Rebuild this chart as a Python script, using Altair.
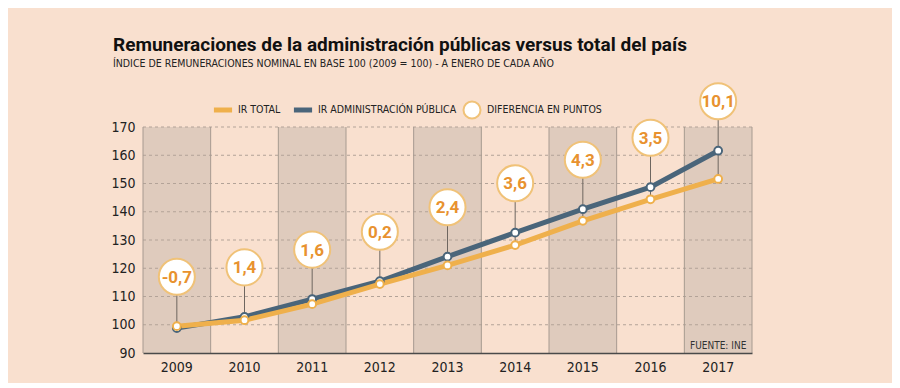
import altair as alt
import pandas as pd

years = ["2009", "2010", "2011", "2012", "2013", "2014", "2015", "2016", "2017"]
ir_total = [99.5, 101.6, 107.3, 114.4, 121.0, 128.2, 136.8, 144.4, 151.6]
ir_admin = [98.8, 102.8, 109.1, 115.4, 124.1, 132.6, 140.9, 148.7, 161.6]
diferencia = ["-0,7", "1,4", "1,6", "0,2", "2,4", "3,6", "4,3", "3,5", "10,1"]
series_names = ["IR TOTAL", "IR ADMINISTRACIÓN PÚBLICA"]
bubble_name = "DIFERENCIA EN PUNTOS"
y_ticks = [90, 100, 110, 120, 130, 140, 150, 160, 170]

BG = "#f9e0cf"
BAND = "#dfcbbd"
ORANGE = "#efb04c"
SLATE = "#4a657a"
BUB = "#f0c278"
TXT_OR = "#e8922f"
FONT = "DejaVu Sans Condensed, DejaVu Sans"
TFONT = "Roboto"

wide = pd.DataFrame({"year": years, "total": ir_total, "admin": ir_admin,
                     "dif": diferencia,
                     "shade": [i % 2 == 0 for i in range(len(years))],
                     "lab": bubble_name})
long = pd.concat([
    pd.DataFrame({"year": years, "value": ir_admin, "serie": series_names[1]}),
    pd.DataFrame({"year": years, "value": ir_total, "serie": series_names[0]}),
])

xs = alt.Scale(domain=years, paddingInner=0, paddingOuter=0)
ys = alt.Scale(domain=[90, 170], nice=False, zero=False)
XAX = alt.Axis(labelAngle=0, ticks=False, domain=True, domainColor="#4a4a4a",
               domainWidth=1.5, labelPadding=7, labelFontSize=14, grid=False,
               labelColor="#222", labelFont=FONT, title=None)
YAX = alt.Axis(values=y_ticks, ticks=False, domain=False, grid=False, labelPadding=8,
               labelOverlap=False, labelFontSize=14, labelColor="#222",
               labelFont=FONT, title=None)


def X(**kw):
    return alt.X("year:O", scale=xs, axis=XAX, title=None, **kw)


def Y(field):
    return alt.Y(field, scale=ys, axis=YAX, title=None)


base = alt.Chart(wide)

bands = base.transform_filter("datum.shade").mark_rect(color=BAND).encode(
    x=X(), y=alt.datum(90, scale=ys, axis=YAX), y2=alt.datum(170))

grid = base.mark_rule(color="#a79a90", strokeWidth=1).encode(
    x=X(bandPosition=0), y=alt.datum(90, scale=ys, axis=YAX), y2=alt.datum(170))
grid_end = base.transform_filter("datum.year == '2017'").mark_rule(
    color="#a79a90", strokeWidth=1).encode(
    x=X(bandPosition=1), y=alt.datum(90, scale=ys, axis=YAX), y2=alt.datum(170))

hgrid = alt.Chart(pd.DataFrame({"v": y_ticks[1:]})).mark_rule(
    color="#b3a398", strokeDash=[3, 3], strokeWidth=1).encode(y=Y("v:Q"))

calc = base.transform_calculate(
    low="min(datum.total, datum.admin)",
    bub="max(datum.total, datum.admin) + 17.5")

stems = calc.mark_rule(color="#6e6660", strokeWidth=1).encode(
    x=X(), y=Y("low:Q"), y2="bub:Q")

color = alt.Color("serie:N", scale=alt.Scale(domain=series_names, range=[ORANGE, SLATE]),
                  legend=alt.Legend(title=None, orient="none", direction="horizontal",
                                    legendX=68, legendY=-29, symbolType="stroke",
                                    symbolStrokeWidth=5, symbolSize=330, labelLimit=400,
                                    labelFontSize=10.5, labelFont=FONT, labelColor="#222",
                                    columnPadding=2, labelOffset=3))

lines = alt.Chart(long).mark_line(strokeWidth=5).encode(
    x=X(), y=Y("value:Q"), color=color, order=alt.Order("serie:N"))

pts = alt.Chart(long).mark_point(filled=False, fill="white", fillOpacity=1,
                                 size=60, strokeWidth=2, opacity=1).encode(
    x=X(), y=Y("value:Q"),
    color=alt.Color("serie:N", scale=alt.Scale(domain=series_names, range=[ORANGE, SLATE]),
                    legend=None))

bubbles = calc.mark_point(filled=False, fill="white", fillOpacity=1, size=1300,
                          strokeWidth=2, opacity=1, shape="circle").encode(
    x=X(), y=Y("bub:Q"),
    stroke=alt.Stroke("lab:N", scale=alt.Scale(range=[BUB]),
                      legend=alt.Legend(title=None, orient="none", legendX=319, legendY=-27,
                                        symbolType="circle", symbolSize=290,
                                        symbolFillColor="white", symbolStrokeWidth=2,
                                        symbolOpacity=1, labelLimit=400,
                                        labelFontSize=10.5, labelFont=FONT,
                                        labelColor="#222", labelOffset=5)))

texts = calc.mark_text(font=TFONT, fontWeight="bold", fontSize=17, color=TXT_OR,
                       baseline="middle", align="center", dy=1).encode(
    x=X(), y=Y("bub:Q"), text="dif:N")

source = alt.Chart(pd.DataFrame({"t": ["FUENTE: INE"], "year": ["2017"], "v": [92.5]})).mark_text(
    font=FONT, fontSize=10, color="#333", align="center", baseline="middle").encode(
    x=X(), y=Y("v:Q"), text="t:N")

chart = alt.layer(bands, hgrid, grid, grid_end, stems, lines, pts, bubbles, texts, source).properties(
    width=609, height=226,
    title=alt.TitleParams(
        text="Remuneraciones de la administración públicas versus total del país",
        subtitle="ÍNDICE DE REMUNERACIONES NOMINAL EN BASE 100 (2009 = 100) - A ENERO DE CADA AÑO",
        anchor="start", frame="group", dx=-30, font=TFONT, fontSize=19, fontWeight="bold",
        color="#111", subtitleFont=FONT, subtitleFontSize=10.5, subtitleColor="#222",
        subtitlePadding=4, offset=10),
    autosize=alt.AutoSizeParams(type="none"),
    padding={"left": 135, "top": 119, "right": 140, "bottom": 30},
    background=BG,
).configure_view(stroke=None)

chart.save("out.html", embed_options={"renderer": "svg", "actions": False})
